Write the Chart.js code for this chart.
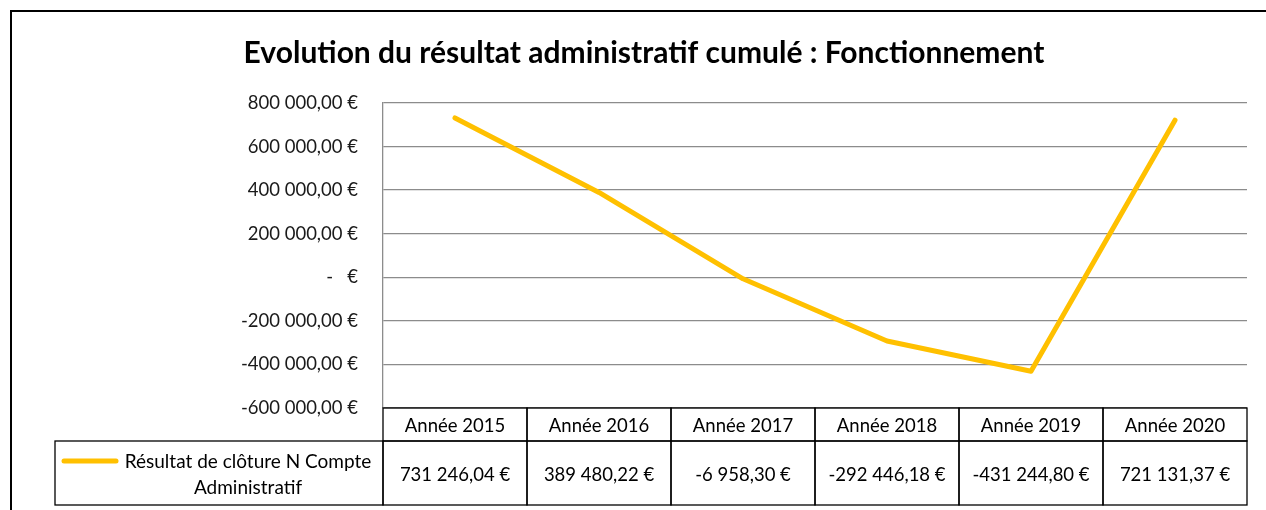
<!DOCTYPE html>
<html>
<head>
<meta charset="utf-8">
<script src="https://cdn.jsdelivr.net/npm/chart.js@4.4.0/dist/chart.umd.min.js"></script>
<style>
  body { margin: 0; background: #fff; }
  #wrap { width: 1266px; height: 510px; }
</style>
</head>
<body>
<div id="wrap"><canvas id="myResultChart" width="1266" height="510"></canvas></div>
<script>
const chartTitle = 'Evolution du résultat administratif cumulé : Fonctionnement';
const years = ['Année 2015', 'Année 2016', 'Année 2017', 'Année 2018', 'Année 2019', 'Année 2020'];
const resultValues = [731246.04, 389480.22, -6958.30, -292446.18, -431244.80, 721131.37];
const seriesName = ['Résultat de clôture N Compte', 'Administratif'];
const yMin = -600000, yMax = 800000, yStep = 200000;

const lineColor = '#FFC000';
const fontName = 'Lato, Calibri, "Open Sans", sans-serif';

// french number: 731 246,04
function frNumber(v) {
    let neg = v < 0;
    let s = Math.abs(v).toFixed(2).split('.');
    let ent = s[0].replace(/\B(?=(\d{3})+(?!\d))/g, ' ');
    return (neg ? '-' : '') + ent + ',' + s[1];
}

const tablePlugin = {
    id: 'tablePlugin',
    afterDraw(chart) {
        const ctx = chart.ctx;
        const xs = chart.scales.x;
        const area = chart.chartArea;
        ctx.save();

        // outer frame
        ctx.strokeStyle = '#000';
        ctx.lineWidth = 2;
        ctx.beginPath();
        ctx.moveTo(11, 520);
        ctx.lineTo(11, 11);
        ctx.lineTo(1270, 11);
        ctx.stroke();

        // title
        ctx.fillStyle = '#000';
        ctx.font = 'bold 30px ' + fontName;
        ctx.textAlign = 'center';
        ctx.textBaseline = 'middle';
        ctx.fillText(chartTitle, 644, 53);

        // data table
        const half = (xs.getPixelForValue(1) - xs.getPixelForValue(0)) / 2;
        const rowTop = area.bottom, rowMid = area.bottom + 33, rowBot = area.bottom + 97;
        ctx.lineWidth = 1.3;
        ctx.strokeStyle = '#000';
        ctx.font = '18.5px ' + fontName;
        years.forEach((lab, i) => {
            const cx = xs.getPixelForValue(i);
            ctx.strokeRect(cx - half, rowTop, half * 2, rowMid - rowTop);
            ctx.strokeRect(cx - half, rowMid, half * 2, rowBot - rowMid);
            ctx.fillText(lab, cx, (rowTop + rowMid) / 2 + 2);
            ctx.fillText(frNumber(resultValues[i]) + ' €', cx, (rowMid + rowBot) / 2 + 2);
        });

        // legend cell
        const legLeft = 55;
        ctx.strokeRect(legLeft, rowMid, area.left - legLeft, rowBot - rowMid);
        ctx.strokeStyle = lineColor;
        ctx.lineWidth = 5;
        ctx.lineCap = 'round';
        ctx.beginPath();
        ctx.moveTo(64, rowMid + 20);
        ctx.lineTo(116, rowMid + 20);
        ctx.stroke();
        ctx.fillStyle = '#000';
        ctx.font = '19px ' + fontName;
        ctx.fillText(seriesName[0], 248, rowMid + 21);
        ctx.fillText(seriesName[1], 248, rowMid + 47);

        ctx.restore();
    }
};

const data = {
    labels: years,
    datasets: [{
        label: seriesName.join(' '),
        data: resultValues,
        borderColor: lineColor,
        borderWidth: 5,
        borderCapStyle: 'round',
        borderJoinStyle: 'round',
        pointRadius: 0,
        tension: 0
    }]
};

const config = {
    type: 'line',
    data: data,
    options: {
        responsive: false,
        animation: false,
        layout: { padding: { left: 0, right: 19, top: 103, bottom: 102 } },
        plugins: {
            legend: { display: false },
            title: { display: false },
            tooltip: { enabled: false }
        },
        scales: {
            x: {
                display: false,
                offset: true
            },
            y: {
                min: yMin,
                max: yMax,
                afterFit: (scale) => { scale.width = 383; },
                grid: { color: '#8c8c8c', lineWidth: 1.3, drawTicks: false },
                border: { display: true, color: '#8c8c8c', width: 1.3 },
                ticks: {
                    stepSize: yStep,
                    padding: 25,
                    color: '#1a1a1a',
                    font: { family: fontName, size: 18.5 },
                    callback: (v) => v === 0 ? '-   €' : frNumber(v) + ' €'
                }
            }
        }
    },
    plugins: [tablePlugin]
};

const ctx = document.getElementById('myResultChart').getContext('2d');
new Chart(ctx, config);
</script>
</body>
</html>
